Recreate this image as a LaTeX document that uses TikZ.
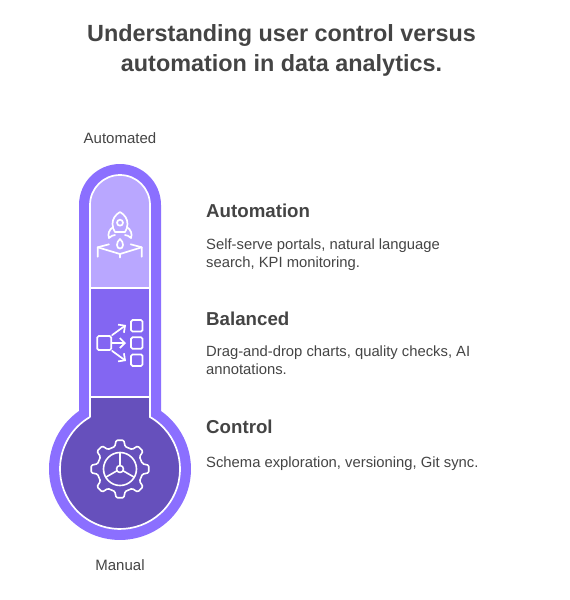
\documentclass[tikz,border=0pt]{standalone}
\usepackage{fontspec}
\setmainfont{Liberation Sans}
\usepackage{tikz}
\usetikzlibrary{arrows.meta, positioning}

\definecolor{tubeframe}{HTML}{8B6FFF}
\definecolor{toplevel}{HTML}{B9A7FF}
\definecolor{midlevel}{HTML}{8366F2}
\definecolor{lowlevel}{HTML}{6650BC}
\definecolor{inktext}{HTML}{444444}

\tikzset{
    titletext/.style={font=\fontsize{23.4}{30}\selectfont\bfseries, text=inktext, align=center},
    endtext/.style={font=\fontsize{15}{18}\selectfont, text=inktext},
    headtext/.style={font=\fontsize{18.7}{22}\selectfont\bfseries, text=inktext, anchor=west, inner sep=0pt},
    bodytext/.style={font=\fontsize{14.8}{18}\selectfont, text=inktext, anchor=north west, inner sep=0pt, align=left},
    iconline/.style={draw=white, line width=1.7pt, line join=round, line cap=round},
    flowbox/.style={draw=white, line width=1.7pt, rounded corners=1.5pt, inner sep=0pt, minimum size=11.5pt},
    flowarrow/.style={iconline, -{Straight Barb[length=5pt,width=10pt]}},
}

\begin{document}
\begin{tikzpicture}[x=1pt, y=-1pt]
    \useasboundingbox (0,0) rectangle (570,600);

    % thermometer
    \fill[tubeframe] (79,411) -- (79,205) arc[start angle=180, end angle=360, radius=41]
        -- (161,411) arc[start angle=-54.7, end angle=234.7, radius=71] -- cycle;

    \fill[toplevel] (90,288) -- (90,205) arc[start angle=180, end angle=360, radius=30] -- (150,288) -- cycle;
    \fill[midlevel] (90,288) rectangle (150,397);
    \fill[lowlevel] (90,397) -- (90,417) arc[start angle=240, end angle=-60, radius=60] -- (150,397) -- cycle;

    \draw[white, line width=1.7pt] (90,417) -- (90,205) arc[start angle=180, end angle=360, radius=30]
        -- (150,417) arc[start angle=-60, end angle=240, radius=60];
    \draw[white, line width=1.7pt] (90,288) -- (150,288);
    \draw[white, line width=1.7pt] (90,397) -- (150,397);

    % rocket
    \draw[iconline] (120,212) .. controls (115,215) and (112.5,219) .. (112.5,224)
        .. controls (112.5,227) and (113.5,230) .. (115,232) -- (125,232)
        .. controls (126.5,230) and (127.5,227) .. (127.5,224)
        .. controls (127.5,219) and (125,215) .. (120,212) -- cycle;
    \draw[iconline] (120,222.7) circle (3);
    \draw[iconline] (113,227) .. controls (109,230) and (107.5,234) .. (109,238)
        .. controls (111,236) and (113,235) .. (115,235);
    \draw[iconline] (127,227) .. controls (131,230) and (132.5,234) .. (131,238)
        .. controls (129,236) and (127,235) .. (125,235);
    \draw[iconline] (120,239) .. controls (118,240.5) and (117,243) .. (117,245)
        .. controls (117,247.5) and (118.5,248.5) .. (120,248.5)
        .. controls (121.5,248.5) and (123,247.5) .. (123,245)
        .. controls (123,243) and (122,240.5) .. (120,239) -- cycle;
    \draw[iconline] (109,244.3) -- (97.7,247.3) -- (97.7,256.7);
    \draw[iconline] (130.7,244.3) -- (141.7,247.3) -- (141.7,256.7);
    \draw[iconline] (97.7,247.3) -- (120,254) -- (141.7,247.3);
    \draw[iconline] (120,254) -- (120,257.5);

    % flow icon
    \node[flowbox, minimum size=14pt] (flowsrc) at (104.2,343) {};
    \node[flowbox] (flowone) at (136.8,325.8) {};
    \node[flowbox] (flowtwo) at (136.8,343) {};
    \node[flowbox] (flowthree) at (136.8,360.2) {};
    \coordinate (tipone) at (126,325);
    \coordinate (tiptwo) at (126,343);
    \coordinate (tipthree) at (126,361);
    \draw[flowarrow] (flowsrc.north east) -- (tipone);
    \draw[flowarrow] (flowsrc.east) -- (tiptwo);
    \draw[flowarrow] (flowsrc.south east) -- (tipthree);

    % gear
    \draw[iconline, line width=1.6pt, rounded corners=1.2pt]
        (120,469) ++(-13:23) \foreach \a in {0,45,...,315} {
            -- ([shift={(120,469)}]\a-13:23) -- ([shift={(120,469)}]\a-7.5:29)
            -- ([shift={(120,469)}]\a+7.5:29) -- ([shift={(120,469)}]\a+13:23)
        } -- cycle;
    \draw[iconline, line width=1.6pt] (120,469) circle (16.5);
    \draw[iconline, line width=1.6pt] (120,469) circle (3.5);
    \foreach \a in {270,30,150} {
        \draw[iconline, line width=1.6pt] ([shift={(120,469)}]\a:3.5) -- ([shift={(120,469)}]\a:16.5);
    }

    % texts
    \node[titletext] (title) at (281.5,50) {Understanding user control versus\\automation in data analytics.};
    \node[endtext] (automated) at (120,138.5) {Automated};
    \node[endtext] (manual) at (120,565) {Manual};

    \node[headtext] (autohead) at (206,211) {Automation};
    \node[bodytext] (autobody) at (206,238.5) {Self-serve portals, natural language\\search, KPI monitoring.};
    \node[headtext] (balhead) at (206,319) {Balanced};
    \node[bodytext] (balbody) at (206,346) {Drag-and-drop charts, quality checks, AI\\annotations.};
    \node[headtext] (ctrlhead) at (206,427) {Control};
    \node[bodytext] (ctrlbody) at (206,457) {Schema exploration, versioning, Git sync.};
\end{tikzpicture}
\end{document}
